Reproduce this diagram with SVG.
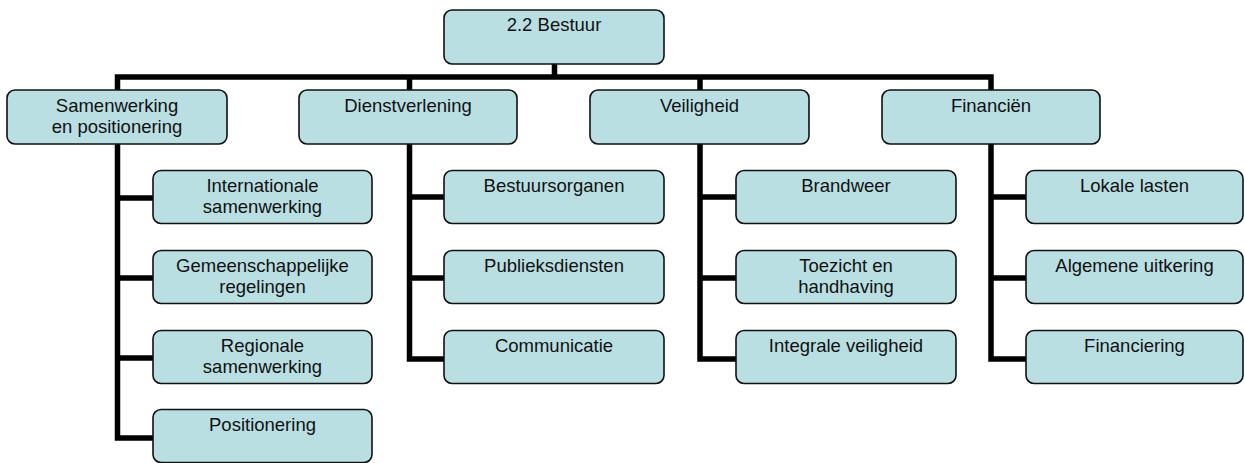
<svg xmlns="http://www.w3.org/2000/svg" width="1245" height="463" viewBox="0 0 1245 463">
<style>
.box{fill:#B9DFE3;stroke:#111;stroke-width:1.6}
.con{fill:none;stroke:#000;stroke-width:5.5;stroke-linejoin:miter;stroke-linecap:butt}
text{font-family:"Liberation Sans",Arial,sans-serif;font-size:18.5px;fill:#111;text-anchor:middle}
</style>
<rect width="1245" height="463" fill="#fff"/>
<g id="connectors">
<path class="con" d="M554.5 64 V77"/>
<path class="con" d="M117.5 90 V77 H991 V90"/>
<path class="con" d="M409.5 77 V90"/>
<path class="con" d="M700 77 V90"/>
<path class="con" d="M117.5 144 V438 H153"/>
<path class="con" d="M117.5 198 H153 M117.5 278 H153 M117.5 358 H153"/>
<path class="con" d="M409.5 144 V359 H444"/>
<path class="con" d="M409.5 197 H444 M409.5 278 H444"/>
<path class="con" d="M700 144 V359 H736"/>
<path class="con" d="M700 197 H736 M700 278 H736"/>
<path class="con" d="M991 144 V359 H1026"/>
<path class="con" d="M991 197 H1026 M991 278 H1026"/>
</g>
<g id="root"><rect class="box" x="444" y="10" width="220" height="54" rx="8"/><text x="554" y="31">2.2 Bestuur</text></g>
<g id="samenwerking"><rect class="box" x="7" y="90" width="220" height="54" rx="8"/><text x="117" y="112">Samenwerking</text><text x="117" y="133">en positionering</text></g>
<g id="dienstverlening"><rect class="box" x="299" y="90" width="218" height="54" rx="8"/><text x="408" y="112">Dienstverlening</text></g>
<g id="veiligheid"><rect class="box" x="590" y="90" width="219" height="54" rx="8"/><text x="699.5" y="112">Veiligheid</text></g>
<g id="financien"><rect class="box" x="882" y="90" width="218" height="54" rx="8"/><text x="991" y="112">Financiën</text></g>

<g id="internationale"><rect class="box" x="153" y="170.5" width="219" height="53" rx="8"/><text x="262.5" y="192">Internationale</text><text x="262.5" y="213">samenwerking</text></g>
<g id="gemeenschappelijke"><rect class="box" x="153" y="250.5" width="219" height="53" rx="8"/><text x="262.5" y="272">Gemeenschappelijke</text><text x="262.5" y="293">regelingen</text></g>
<g id="regionale"><rect class="box" x="153" y="330.5" width="219" height="53" rx="8"/><text x="262.5" y="352">Regionale</text><text x="262.5" y="373">samenwerking</text></g>
<g id="positionering"><rect class="box" x="153" y="409.5" width="219" height="53" rx="8"/><text x="262.5" y="431">Positionering</text></g>

<g id="bestuursorganen"><rect class="box" x="444" y="170.5" width="220" height="53" rx="8"/><text x="554" y="192">Bestuursorganen</text></g>
<g id="publieksdiensten"><rect class="box" x="444" y="250.5" width="220" height="53" rx="8"/><text x="554" y="272">Publieksdiensten</text></g>
<g id="communicatie"><rect class="box" x="444" y="330.5" width="220" height="53" rx="8"/><text x="554" y="352">Communicatie</text></g>

<g id="brandweer"><rect class="box" x="736" y="170.5" width="220" height="53" rx="8"/><text x="846" y="192">Brandweer</text></g>
<g id="toezicht"><rect class="box" x="736" y="250.5" width="220" height="53" rx="8"/><text x="846" y="272">Toezicht en</text><text x="846" y="293">handhaving</text></g>
<g id="integrale"><rect class="box" x="736" y="330.5" width="220" height="53" rx="8"/><text x="846" y="352">Integrale veiligheid</text></g>

<g id="lokale"><rect class="box" x="1026" y="170.5" width="217" height="53" rx="8"/><text x="1134.5" y="192">Lokale lasten</text></g>
<g id="algemene"><rect class="box" x="1026" y="250.5" width="217" height="53" rx="8"/><text x="1134.5" y="272">Algemene uitkering</text></g>
<g id="financiering"><rect class="box" x="1026" y="330.5" width="217" height="53" rx="8"/><text x="1134.5" y="352">Financiering</text></g>
</svg>
